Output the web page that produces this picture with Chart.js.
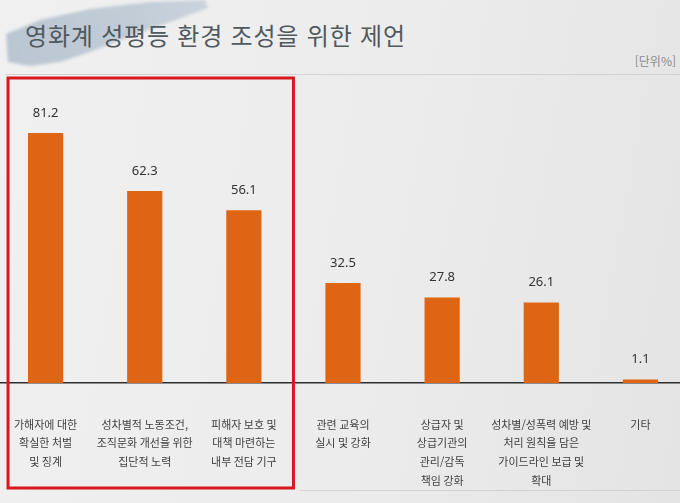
<!DOCTYPE html>
<html lang="ko">
<head>
<meta charset="utf-8">
<script src="https://cdn.jsdelivr.net/npm/chart.js@4.4.1/dist/chart.umd.min.js"></script>
<style>
  html, body { margin: 0; padding: 0; }
  body {
    width: 680px; height: 503px; overflow: hidden; position: relative;
    background: linear-gradient(100deg, #f0f0f0 0%, #ececec 55%, #e4e4e4 100%);
    font-family: "Noto Sans CJK KR", sans-serif;
  }
  .brush-wrap { position: absolute; left: 0; top: 0; width: 230px; height: 80px; filter: blur(1.5px); }
  .brush {
    width: 100%; height: 100%;
    background: linear-gradient(75deg, #b9c5d1 0%, #c2ccd7 60%, #cdd5de 100%);
    clip-path: polygon(6px 34px, 40px 20px, 90px 9px, 150px 2px, 205px 0px, 208px 8px,
                       170px 22px, 120px 40px, 90px 52px, 60px 62px, 30px 66px, 8px 62px);
  }
  .title {
    position: absolute; left: 25px; top: 21px; line-height: 28px;
    font-size: 24px; letter-spacing: 0.8px; color: #4f595e; white-space: nowrap;
  }
  .unit {
    position: absolute; right: 4px; top: 52px; font-size: 12px; color: #8a8a8a;
  }
  .rule { position: absolute; left: 5px; right: 0; top: 74px; height: 1px; background: #d2d2d2; }
  .rule2 { position: absolute; left: 300px; right: 0; top: 490px; height: 1px; background: #d2d2d2; }
  #wrap { position: absolute; left: -18px; top: 0; width: 708px; height: 503px; }
</style>
</head>
<body>
<div class="brush-wrap"><div class="brush"></div></div>
<div class="title">영화계 성평등 환경 조성을 위한 제언</div>
<div class="unit">[단위%]</div>
<div class="rule"></div>
<div class="rule2"></div>
<div id="wrap"><canvas id="chart"></canvas></div>
<script>
// categories (multi-line labels) and values in %
const categories = [
  ['가해자에 대한', '확실한 처벌', '및 징계'],
  ['성차별적 노동조건,', '조직문화 개선을 위한', '집단적 노력'],
  ['피해자 보호 및', '대책 마련하는', '내부 전담 기구'],
  ['관련 교육의', '실시 및 강화'],
  ['상급자 및', '상급기관의', '관리/감독', '책임 강화'],
  ['성차별/성폭력 예방 및', '처리 원칙을 담은', '가이드라인 보급 및', '확대'],
  ['기타']
];
const values = [81.2, 62.3, 56.1, 32.5, 27.8, 26.1, 1.1];
const highlighted = [0, 1, 2]; // boxed in red

// value labels above each bar
const valueLabels = {
  id: 'valueLabels',
  afterDatasetsDraw(chart) {
    const ctx = chart.ctx;
    const meta = chart.getDatasetMeta(0);
    ctx.save();
    ctx.fillStyle = '#333';
    ctx.font = '13px "Liberation Sans Narrow", "Noto Sans", sans-serif';
    ctx.textAlign = 'center';
    ctx.textBaseline = 'middle';
    meta.data.forEach((bar, i) => {
      ctx.fillText(values[i].toFixed(1), bar.x, bar.y - 20);
    });
    ctx.restore();
  }
};

// red frame around the highlighted categories
const redBox = {
  id: 'redBox',
  afterDraw(chart) {
    const x = chart.scales.x;
    const first = highlighted[0], last = highlighted[highlighted.length - 1];
    const half = (x.getPixelForValue(1) - x.getPixelForValue(0)) / 2;
    const left = x.getPixelForValue(first) - half + 12;
    const right = x.getPixelForValue(last) + half;
    const top = chart.chartArea.top + 3;
    const bottom = 488;
    const ctx = chart.ctx;
    ctx.save();
    ctx.strokeStyle = '#d7191f';
    ctx.lineWidth = 3;
    ctx.strokeRect(left, top, right - left, bottom - top);
    ctx.restore();
  }
};

new Chart(document.getElementById('chart'), {
  type: 'bar',
  data: {
    labels: categories,
    datasets: [{
      data: values,
      backgroundColor: '#de6513',
      barPercentage: 0.355,
      categoryPercentage: 1
    }]
  },
  options: {
    responsive: true,
    maintainAspectRatio: false,
    animation: false,
    layout: { padding: { top: 75, left: 0, right: 0, bottom: 0 } },
    plugins: { legend: { display: false }, tooltip: { enabled: false } },
    scales: {
      x: {
        grid: { display: false, drawTicks: false },
        border: { color: '#2e2e2e', width: 1.5 },
        afterFit(scale) { scale.height = 120; },
        ticks: {
          color: '#3f3f3f',
          padding: 32,
          autoSkip: false,
          maxRotation: 0,
          minRotation: 0,
          font: { family: '"Noto Sans CJK KR", sans-serif', size: 11, lineHeight: 1.7 }
        }
      },
      y: {
        display: false,
        min: 0,
        max: 100
      }
    }
  },
  plugins: [valueLabels, redBox]
});
</script>
</body>
</html>
